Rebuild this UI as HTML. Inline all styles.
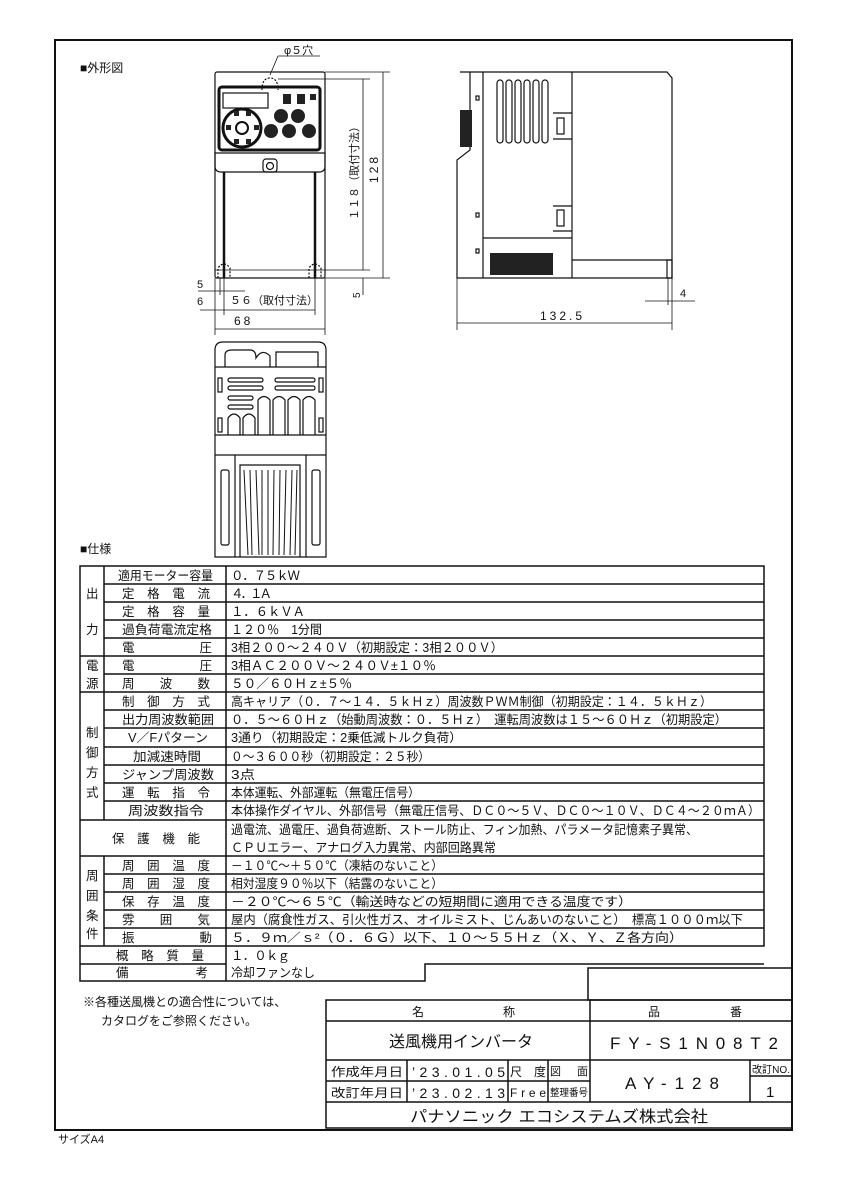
<!DOCTYPE html>
<html><head><meta charset="utf-8"><style>
html,body{margin:0;padding:0;background:#fff}
svg{display:block}
text{font-family:"Liberation Sans","Noto Sans CJK JP",sans-serif;fill:#111}
</style></head><body>
<svg width="849" height="1200" viewBox="0 0 849 1200" xmlns="http://www.w3.org/2000/svg">
<g fill="none" stroke="#111">
<rect x="55" y="40" width="737" height="1090" stroke-width="2"/>
</g>
<text x="80" y="72" font-size="12">■外形図</text>

<!-- Front view -->
<g fill="none" stroke="#111" stroke-width="1.2">
<rect x="215" y="72" width="110" height="206" rx="2"/>
<rect x="219" y="87" width="101" height="63" rx="3" stroke-width="3"/>
<rect x="223" y="93" width="45" height="15"/>
<circle cx="242" cy="128" r="19" stroke-width="3"/>
<circle cx="242" cy="128" r="6" stroke-width="2"/>
<path d="M215 153 H325 V166 Q325 172 319 172 H221 Q215 172 215 166 Z"/>
<rect x="263" y="159" width="14" height="13" rx="3"/>
<circle cx="270" cy="166" r="3.5"/>
<line x1="224" y1="172" x2="224" y2="278" stroke-width="2.5"/>
<line x1="315" y1="172" x2="315" y2="278" stroke-width="2.5"/>
<line x1="215" y1="270" x2="325" y2="270" stroke-width="0.7"/>
<path d="M218 278 V268 Q224 260 230 268 V278" stroke-dasharray="2,1.5"/>
<path d="M309 278 V268 Q315 260 321 268 V278" stroke-dasharray="2,1.5"/>
<path d="M262 90 Q262 78 270 78 Q278 78 278 90" stroke-dasharray="2,1.5"/>
</g>
<g fill="#222">
<circle cx="281" cy="116" r="7"/><circle cx="298" cy="116" r="7"/>
<circle cx="271" cy="131" r="7"/><circle cx="289" cy="131" r="7"/><circle cx="309" cy="131" r="7"/>
<rect x="283" y="94" width="8" height="10"/><rect x="297" y="94" width="8" height="10"/><rect x="310" y="94" width="6" height="6"/>
<rect x="234" y="111" width="5" height="5"/><rect x="246" y="111" width="5" height="5"/>
<rect x="226" y="125" width="5" height="5"/><rect x="254" y="125" width="5" height="5"/>
<rect x="234" y="139" width="5" height="5"/><rect x="246" y="139" width="5" height="5"/>
</g>
<!-- front dims -->
<g stroke="#111" stroke-width="0.8" fill="none">
<line x1="325" y1="72" x2="390" y2="72"/>
<line x1="278" y1="79" x2="370" y2="79"/>
<line x1="325" y1="270" x2="370" y2="270"/>
<line x1="325" y1="278" x2="390" y2="278"/>
<line x1="383" y1="72" x2="383" y2="278"/>
<line x1="363" y1="79" x2="363" y2="270"/>
<line x1="363" y1="278" x2="363" y2="295"/>
<line x1="215" y1="278" x2="215" y2="335"/>
<line x1="325" y1="278" x2="325" y2="335"/>
<line x1="224" y1="278" x2="224" y2="315"/>
<line x1="220" y1="278" x2="220" y2="295"/>
<line x1="315" y1="278" x2="315" y2="315"/>
<line x1="215" y1="329" x2="325" y2="329"/>
<line x1="200" y1="310" x2="315" y2="310"/>
<line x1="198" y1="291" x2="245" y2="291"/>
<line x1="270" y1="75" x2="278" y2="56"/>
<line x1="278" y1="56" x2="320" y2="56"/>
</g>
<text x="284" y="54" font-size="11">φ５穴</text>
<text x="370" y="175" font-size="12" transform="rotate(-90 378 175)" letter-spacing="3">128</text>
<text x="318" y="180" font-size="11" transform="rotate(-90 358 180)">１１８（取付寸法）</text>
<text x="350" y="296" font-size="10" transform="rotate(-90 356 292)">5</text>
<text x="197" y="288" font-size="11">5</text>
<text x="197" y="305" font-size="11">6</text>
<text x="230" y="304" font-size="11">５６（取付寸法）</text>
<text x="234" y="325" font-size="12" letter-spacing="3">68</text>

<!-- Side view -->
<g fill="none" stroke="#111" stroke-width="1.2">
<path d="M460 72 H667 L672 78 V278 H457 V160 L470 150 V72"/>
<line x1="483" y1="72" x2="483" y2="278"/>
<line x1="572" y1="72" x2="572" y2="278"/>
<line x1="483" y1="238" x2="572" y2="238"/>
<line x1="572" y1="260" x2="672" y2="260"/>
<rect x="667" y="260" width="5" height="18"/>
<rect x="557" y="118" width="7" height="16"/>
<rect x="557" y="210" width="7" height="16"/>
<line x1="553" y1="113" x2="572" y2="113"/><line x1="553" y1="139" x2="572" y2="139"/>
<line x1="553" y1="206" x2="572" y2="206"/><line x1="553" y1="231" x2="572" y2="231"/>
<rect x="476" y="96" width="3" height="4"/><rect x="476" y="213" width="3" height="4"/><rect x="476" y="249" width="3" height="4"/>
<rect x="497" y="80" width="6" height="63" rx="3"/><rect x="506" y="80" width="6" height="63" rx="3"/>
<rect x="515" y="80" width="6" height="63" rx="3"/><rect x="524" y="80" width="6" height="63" rx="3"/>
<rect x="533" y="80" width="6" height="63" rx="3"/><rect x="542" y="80" width="6" height="63" rx="3"/>
</g>
<rect x="490" y="253" width="63" height="22" fill="#222"/>
<rect x="460" y="110" width="12" height="37" fill="#222"/>
<g stroke="#111" stroke-width="0.8">
<line x1="457" y1="278" x2="457" y2="330"/>
<line x1="672" y1="278" x2="672" y2="330"/>
<line x1="668" y1="278" x2="668" y2="305"/>
<line x1="457" y1="323" x2="672" y2="323"/>
<line x1="645" y1="301" x2="695" y2="301"/>
</g>
<text x="540" y="320" font-size="12" letter-spacing="3">132.5</text>
<text x="680" y="297" font-size="11">4</text>

<!-- Bottom view -->
<g fill="none" stroke="#111" stroke-width="1.2">
<path d="M215 557 V350 Q215 342 223 342 H318 Q326 342 326 350 V557 Z"/>
<line x1="215" y1="367" x2="326" y2="367"/>
<path d="M225 367 V355 Q225 350 232 350 H250 Q256 350 256 358 Q262 348 270 356 V367"/>
<path d="M276 367 V352 H318 V367"/>
<line x1="215" y1="455" x2="326" y2="455"/>
<rect x="228" y="378" width="35" height="4" rx="2"/><rect x="228" y="386" width="35" height="4" rx="2"/>
<rect x="275" y="378" width="40" height="4" rx="2"/><rect x="275" y="386" width="40" height="4" rx="2"/>
<rect x="228" y="396" width="25" height="4" rx="2"/><rect x="228" y="405" width="25" height="4" rx="2"/>
<path d="M228 435 V418 Q234 410 240 418 V435"/><path d="M243 435 V418 Q249 410 255 418 V435"/>
<path d="M258 435 V400 Q264 393 270 400 V435"/><path d="M273 435 V400 Q279 393 285 400 V435"/>
<path d="M288 435 V400 Q294 393 300 400 V435"/><path d="M303 435 V400 Q309 393 315 400 V435"/>
<rect x="218" y="378" width="4" height="14"/><rect x="319" y="378" width="4" height="14"/>
<rect x="218" y="418" width="4" height="14"/><rect x="319" y="418" width="4" height="14"/>
<line x1="215" y1="435" x2="326" y2="435"/>
<line x1="235" y1="455" x2="235" y2="557"/><line x1="306" y1="455" x2="306" y2="557"/>
<rect x="221" y="470" width="8" height="75" rx="2"/><rect x="312" y="470" width="8" height="75" rx="2"/>
<path d="M240 557 V465 H300 V557"/>
</g>
<g stroke="#111" stroke-width="1">
<path d="M244 470 L248 555 M250 470 L252 555 M256 470 L259 555 M262 470 L262 555 M268 470 L268 555 M274 470 L273 555 M280 470 L279 555 M286 470 L284 555 M292 470 L290 555 M297 470 L295 555" fill="none"/>
</g>

<text x="80" y="553" font-size="12">■仕様</text>

<!-- Spec table -->
<g stroke="#111" stroke-width="1.5" fill="none">
<rect x="80" y="566" width="684" height="380"/>
<line x1="226" y1="566" x2="226" y2="981"/>
<line x1="104" y1="566" x2="104" y2="820"/>
<line x1="104" y1="856" x2="104" y2="946"/>
<path d="M80 946 V981 H425 V964 H764"/>
<path d="M104 584H764M104 602H764M104 620H764M104 638H764M80 656H764M104 674H764M80 692H764M104 710H764M104 728H764M104 747H764M104 765H764M104 783H764M104 801H764M80 820H764M80 856H764M104 874H764M104 892H764M104 910H764M104 928H764M80 964H226"/>
</g>
<g font-size="12.5">
<text x="86" y="598">出</text><text x="86" y="634">力</text>
<text x="86" y="670">電</text><text x="86" y="688">源</text>
<text x="86" y="737">制</text><text x="86" y="757">御</text><text x="86" y="777">方</text><text x="86" y="797">式</text>
<text x="86" y="880">周</text><text x="86" y="900">囲</text><text x="86" y="920">条</text><text x="86" y="938">件</text>

<text x="118" y="580" textLength="95" lengthAdjust="spacingAndGlyphs">適用モーター容量</text>
<text x="122" y="598" textLength="88" lengthAdjust="spacing">定格電流</text>
<text x="122" y="616" textLength="88" lengthAdjust="spacing">定格容量</text>
<text x="122" y="634" textLength="90" lengthAdjust="spacingAndGlyphs">過負荷電流定格</text>
<text x="122" y="652" textLength="90" lengthAdjust="spacing">電圧</text>
<text x="122" y="670" textLength="90" lengthAdjust="spacing">電圧</text>
<text x="122" y="688" textLength="88" lengthAdjust="spacing">周波数</text>
<text x="122" y="706" textLength="88" lengthAdjust="spacing">制御方式</text>
<text x="122" y="724" textLength="92" lengthAdjust="spacingAndGlyphs">出力周波数範囲</text>
<text x="128" y="742" textLength="80" lengthAdjust="spacingAndGlyphs">V／Fパターン</text>
<text x="133" y="761" textLength="68" lengthAdjust="spacingAndGlyphs">加減速時間</text>
<text x="122" y="779" textLength="92" lengthAdjust="spacingAndGlyphs">ジャンプ周波数</text>
<text x="122" y="797" textLength="88" lengthAdjust="spacing">運転指令</text>
<text x="128" y="815" textLength="76" lengthAdjust="spacingAndGlyphs">周波数指令</text>
<text x="112" y="843" textLength="88" lengthAdjust="spacing">保護機能</text>
<text x="122" y="870" textLength="88" lengthAdjust="spacing">周囲温度</text>
<text x="122" y="888" textLength="88" lengthAdjust="spacing">周囲湿度</text>
<text x="122" y="906" textLength="88" lengthAdjust="spacing">保存温度</text>
<text x="122" y="924" textLength="88" lengthAdjust="spacing">雰囲気</text>
<text x="122" y="942" textLength="90" lengthAdjust="spacing">振動</text>
<text x="116" y="960" textLength="88" lengthAdjust="spacing">概略質量</text>
<text x="116" y="977" textLength="92" lengthAdjust="spacing">備考</text>

<text x="231" y="580" textLength="69" lengthAdjust="spacing">０．７５ｋＷ</text>
<text x="231" y="598" textLength="41" lengthAdjust="spacing">４．１Ａ</text>
<text x="231" y="616" textLength="74" lengthAdjust="spacing">１．６ｋＶＡ</text>
<text x="231" y="634" textLength="91" lengthAdjust="spacingAndGlyphs">１２０％　1分間</text>
<text x="231" y="652" textLength="272" lengthAdjust="spacingAndGlyphs">3相２００～２４０Ｖ（初期設定：3相２００Ｖ）</text>
<text x="231" y="670" textLength="205" lengthAdjust="spacingAndGlyphs">3相ＡＣ２００Ｖ～２４０Ｖ±１０％</text>
<text x="231" y="688" textLength="121" lengthAdjust="spacingAndGlyphs">５０／６０Ｈｚ±５％</text>
<text x="231" y="706" textLength="481" lengthAdjust="spacingAndGlyphs">高キャリア（０．７～１４．５ｋＨｚ）周波数ＰＷＭ制御（初期設定：１４．５ｋＨｚ）</text>
<text x="231" y="724" textLength="496" lengthAdjust="spacingAndGlyphs">０．５～６０Ｈｚ（始動周波数：０．５Ｈｚ）　運転周波数は１５～６０Ｈｚ（初期設定）</text>
<text x="231" y="742" textLength="231" lengthAdjust="spacingAndGlyphs">3通り（初期設定：2乗低減トルク負荷）</text>
<text x="231" y="761" textLength="199" lengthAdjust="spacingAndGlyphs">０～３６００秒（初期設定：２５秒）</text>
<text x="231" y="779" textLength="24" lengthAdjust="spacingAndGlyphs">3点</text>
<text x="231" y="797" textLength="189" lengthAdjust="spacingAndGlyphs">本体運転、外部運転（無電圧信号）</text>
<text x="231" y="815" textLength="529" lengthAdjust="spacingAndGlyphs">本体操作ダイヤル、外部信号（無電圧信号、ＤＣ０～５Ｖ、ＤＣ０～１０Ｖ、ＤＣ４～２０ｍＡ）</text>
<text x="231" y="834" textLength="467" lengthAdjust="spacingAndGlyphs">過電流、過電圧、過負荷遮断、ストール防止、フィン加熱、パラメータ記憶素子異常、</text>
<text x="231" y="852" textLength="265" lengthAdjust="spacingAndGlyphs">ＣＰＵエラー、アナログ入力異常、内部回路異常</text>
<text x="231" y="870" textLength="212" lengthAdjust="spacingAndGlyphs">－１０℃～＋５０℃（凍結のないこと）</text>
<text x="231" y="888" textLength="212" lengthAdjust="spacingAndGlyphs">相対湿度９０％以下（結露のないこと）</text>
<text x="231" y="906" textLength="401" lengthAdjust="spacingAndGlyphs">－２０℃～６５℃（輸送時などの短期間に適用できる温度です）</text>
<text x="231" y="924" textLength="512" lengthAdjust="spacingAndGlyphs">屋内（腐食性ガス、引火性ガス、オイルミスト、じんあいのないこと）　標高１０００ｍ以下</text>
<text x="231" y="942" textLength="452" lengthAdjust="spacingAndGlyphs">５．９ｍ／ｓ²（０．６Ｇ）以下、１０～５５Ｈｚ（Ｘ、Ｙ、Ｚ各方向）</text>
<text x="231" y="960" textLength="59" lengthAdjust="spacing">１．０ｋｇ</text>
<text x="231" y="977" textLength="84" lengthAdjust="spacingAndGlyphs">冷却ファンなし</text>
</g>

<text x="83" y="1006" font-size="12">※各種送風機との適合性については、</text>
<text x="101" y="1025" font-size="12">カタログをご参照ください。</text>

<!-- Title block -->
<g stroke="#111" stroke-width="1.5" fill="none">
<rect x="588" y="968" width="204" height="32"/>
<rect x="326" y="1000" width="466" height="128"/>
<line x1="326" y1="1021" x2="792" y2="1021"/>
<line x1="326" y1="1060" x2="792" y2="1060"/>
<line x1="326" y1="1081" x2="590" y2="1081"/>
<line x1="326" y1="1102" x2="792" y2="1102"/>
<line x1="590" y1="1000" x2="590" y2="1102"/>
<line x1="407" y1="1060" x2="407" y2="1102"/>
<line x1="508" y1="1060" x2="508" y2="1102"/>
<line x1="548" y1="1060" x2="548" y2="1102"/>
<line x1="750" y1="1060" x2="750" y2="1102"/>
<line x1="750" y1="1076" x2="792" y2="1076"/>
</g>
<text x="412" y="1016" font-size="12">名</text><text x="503" y="1016" font-size="12">称</text>
<text x="648" y="1016" font-size="12">品</text><text x="730" y="1016" font-size="12">番</text>
<text x="389" y="1047" font-size="16" textLength="144" lengthAdjust="spacingAndGlyphs">送風機用インバータ</text>
<text x="610" y="1049" font-size="17" textLength="168" lengthAdjust="spacing" fill="#444">FY-S1N08T2</text>
<text x="331" y="1076" font-size="12" textLength="72" lengthAdjust="spacingAndGlyphs">作成年月日</text>
<text x="331" y="1097" font-size="12" textLength="72" lengthAdjust="spacingAndGlyphs">改訂年月日</text>
<text x="412" y="1077" font-size="14" textLength="93" lengthAdjust="spacing">’23.01.05</text>
<text x="412" y="1098" font-size="14" textLength="93" lengthAdjust="spacing">’23.02.13</text>
<text x="510" y="1076" font-size="12" textLength="36" lengthAdjust="spacing">尺度</text>
<text x="510" y="1097" font-size="12" textLength="36" lengthAdjust="spacing">Free</text>
<text x="550" y="1075" font-size="11" textLength="38" lengthAdjust="spacing">図面</text>
<text x="550" y="1096" font-size="10" textLength="38" lengthAdjust="spacingAndGlyphs">整理番号</text>
<text x="625" y="1089" font-size="17" textLength="94" lengthAdjust="spacing">AY-128</text>
<text x="752" y="1073" font-size="10" textLength="38" lengthAdjust="spacingAndGlyphs">改訂NO.</text>
<text x="766" y="1097" font-size="15">1</text>
<text x="410" y="1122" font-size="16" textLength="298" lengthAdjust="spacingAndGlyphs">パナソニック エコシステムズ株式会社</text>

<text x="58" y="1143" font-size="11">サイズA4</text>
</svg>
</body></html>
